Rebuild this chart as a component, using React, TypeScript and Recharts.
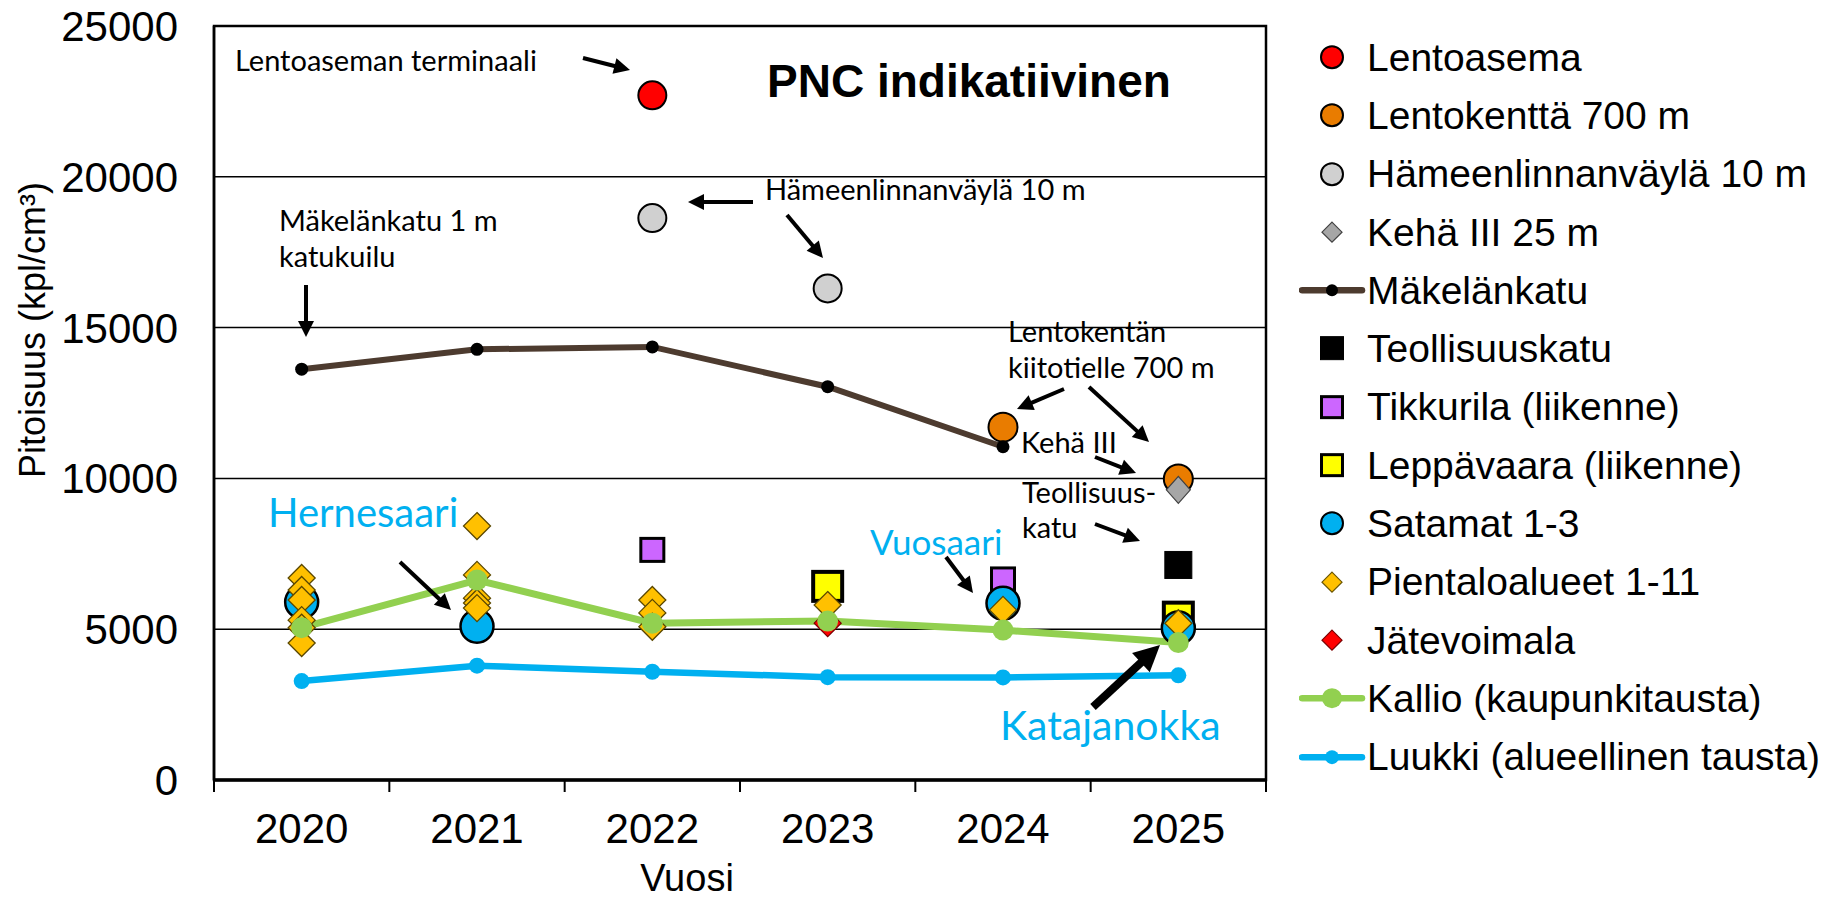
import React from 'react';
import { ComposedChart, Line, Scatter, XAxis, YAxis, CartesianGrid, Legend, ReferenceArea, ReferenceLine } from 'recharts';

const FONT = 'Liberation Sans, Arial, sans-serif';
const NOTE_FONT = 'Lato, sans-serif';

// categories and ticks
const years = [2020, 2021, 2022, 2023, 2024, 2025];
const yearEdges = [2019.5, 2020.5, 2021.5, 2022.5, 2023.5, 2024.5, 2025.5];
const yTicks = [0, 5000, 10000, 15000, 20000, 25000];

// series values, one entry per year (null = no measurement)
const makelankatu = [13620, 14280, 14360, 13040, 11050, null];
const kallio = [5050, 6630, 5200, 5270, 4970, 4560];
const luukki = [3280, 3790, 3590, 3410, 3400, 3470];
const lentoasema = [null, null, 22700, null, null, null];
const lentokentta = [null, null, null, null, 11700, 9980];
const hameenlinnanvayla = [null, null, 18630, 16300, null, null];
const keha3 = [null, null, null, null, null, 9620];
const teollisuuskatu = [null, null, null, null, null, 7130];
const tikkurila = [null, null, 7630, null, 6650, null];
const leppavaara = [null, null, null, 6420, null, 5400];
const satamat = [5900, 5100, null, null, 5860, 5040];
const jatevoimala = [null, null, null, 5200, null, null];
// several sites per year
const pientalo = [
  [6700, 6300, 5970, 5300, 5050, 4540],
  [8420, 6800, 6030, 5870, 5700],
  [5970, 5540, 5080],
  [5800],
  [5640],
  [5200],
];

const toPoints = (vals: (number | null)[]) =>
  years.flatMap((x, i) => (vals[i] == null ? [] : [{ x, y: vals[i] as number }]));
const pientaloPoints = years.flatMap((x, i) => pientalo[i].map((y) => ({ x, y })));
const xTicks = [...yearEdges, ...years].sort((a, b) => a - b);

const circleShape = (r: number, fill: string, stroke: string, sw: number) => (p: any) => (
  <circle cx={p.cx} cy={p.cy} r={r} fill={fill} stroke={stroke} strokeWidth={sw} />
);
const squareShape = (s: number, fill: string, stroke: string, sw: number) => (p: any) => (
  <rect x={p.cx - s / 2} y={p.cy - s / 2} width={s} height={s} fill={fill} stroke={stroke} strokeWidth={sw} />
);
const diamondShape = (hw: number, hh: number, fill: string, stroke: string, sw: number) => (p: any) => (
  <polygon
    points={`${p.cx},${p.cy - hh} ${p.cx + hw},${p.cy} ${p.cx},${p.cy + hh} ${p.cx - hw},${p.cy}`}
    fill={fill}
    stroke={stroke}
    strokeWidth={sw}
  />
);

// year labels in the middle of each band, tick marks on the band edges
function YearTick(props: any) {
  const { x, y, payload } = props;
  const v = payload.value;
  if (!Number.isInteger(v)) return <line x1={x} y1={y} x2={x} y2={y + 12} stroke="#000" strokeWidth={2} />;
  return (
    <text x={x} y={y + 33} dy="0.71em" textAnchor="middle" fontFamily={FONT} fontSize={42} fill="#000">
      {v}
    </text>
  );
}

type LegendItem = { name: string; kind: string; fill: string; stroke?: string; sw?: number; size?: number; dot?: number };
const legendItems: LegendItem[] = [
  { name: 'Lentoasema', kind: 'circle', fill: '#FF0000', stroke: '#000', sw: 2, size: 11 },
  { name: 'Lentokenttä 700 m', kind: 'circle', fill: '#E97C00', stroke: '#000', sw: 2, size: 11 },
  { name: 'Hämeenlinnanväylä 10 m', kind: 'circle', fill: '#D0D0D0', stroke: '#000', sw: 2, size: 11 },
  { name: 'Kehä III 25 m', kind: 'diamond', fill: '#A6A6A6', stroke: '#404040', sw: 1.2, size: 10 },
  { name: 'Mäkelänkatu', kind: 'line', fill: '#4D3B2F', dot: 6, stroke: '#000' },
  { name: 'Teollisuuskatu', kind: 'square', fill: '#000', stroke: '#000', sw: 1, size: 23 },
  { name: 'Tikkurila (liikenne)', kind: 'square', fill: '#CC66FF', stroke: '#000', sw: 3, size: 21 },
  { name: 'Leppävaara (liikenne)', kind: 'square', fill: '#FFFF00', stroke: '#000', sw: 3, size: 21 },
  { name: 'Satamat 1-3', kind: 'circle', fill: '#00B0F0', stroke: '#000', sw: 2, size: 11 },
  { name: 'Pientaloalueet 1-11', kind: 'diamond', fill: '#FFC000', stroke: '#6B5500', sw: 1.2, size: 10 },
  { name: 'Jätevoimala', kind: 'diamond', fill: '#FF0000', stroke: '#7A0000', sw: 1.2, size: 10 },
  { name: 'Kallio (kaupunkitausta)', kind: 'line', fill: '#92D050', dot: 10, stroke: '#92D050' },
  { name: 'Luukki (alueellinen tausta)', kind: 'line', fill: '#00B0F0', dot: 7, stroke: '#00B0F0' },
];

const ROW = 58.3;

function LegendIcon({ item }: { item: LegendItem }) {
  const c = 33;
  const m = ROW / 2;
  const s = item.size || 10;
  if (item.kind === 'circle') return <circle cx={c} cy={m} r={s} fill={item.fill} stroke={item.stroke} strokeWidth={item.sw} />;
  if (item.kind === 'square')
    return <rect x={c - s / 2} y={m - s / 2} width={s} height={s} fill={item.fill} stroke={item.stroke} strokeWidth={item.sw} />;
  if (item.kind === 'diamond')
    return (
      <polygon
        points={`${c},${m - s} ${c + s},${m} ${c},${m + s} ${c - s},${m}`}
        fill={item.fill}
        stroke={item.stroke}
        strokeWidth={item.sw}
      />
    );
  return (
    <g>
      <line x1={3} y1={m} x2={63} y2={m} stroke={item.fill} strokeWidth={6.5} strokeLinecap="round" />
      <circle cx={c} cy={m} r={item.dot} fill={item.stroke} />
    </g>
  );
}

function LegendBox() {
  return (
    <div style={{ fontFamily: FONT, fontSize: 39, color: '#000' }}>
      {legendItems.map((item) => (
        <div key={item.name} style={{ height: ROW, display: 'flex', alignItems: 'center' }}>
          <svg width={68} height={ROW} style={{ flex: 'none' }}>
            <LegendIcon item={item} />
          </svg>
          <span style={{ whiteSpace: 'nowrap', lineHeight: 1 }}>{item.name}</span>
        </div>
      ))}
    </div>
  );
}

function Arrow({ x1, y1, x2, y2, w = 4, head = 16 }: { x1: number; y1: number; x2: number; y2: number; w?: number; head?: number }) {
  const len = Math.hypot(x2 - x1, y2 - y1);
  const ux = (x2 - x1) / len;
  const uy = (y2 - y1) / len;
  const bx = x2 - ux * head;
  const by = y2 - uy * head;
  const hw = head * 0.5;
  return (
    <g>
      <line x1={x1} y1={y1} x2={bx + ux} y2={by + uy} stroke="#000" strokeWidth={w} />
      <polygon points={`${x2},${y2} ${bx - uy * hw},${by + ux * hw} ${bx + uy * hw},${by - ux * hw}`} fill="#000" />
    </g>
  );
}

function Note({ x, y, lines, step = 36 }: { x: number; y: number; lines: string[]; step?: number }) {
  return (
    <text x={x} y={y} fontFamily={NOTE_FONT} fontSize={29} fill="#000">
      {lines.map((l, i) => (
        <tspan key={i} x={x} dy={i === 0 ? 0 : step}>
          {l}
        </tspan>
      ))}
    </text>
  );
}

function Notes() {
  const b = { fontFamily: NOTE_FONT, fill: '#00B0F0' };
  return (
    <svg width={1830} height={898} style={{ position: 'absolute', left: 0, top: 0, pointerEvents: 'none' }}>
      <text x={767} y={97} fontFamily={FONT} fontWeight="bold" fontSize={46} fill="#000">PNC indikatiivinen</text>
      <text x={45} y={330} transform="rotate(-90 45 330)" textAnchor="middle" fontFamily={FONT} fontSize={36} fill="#000">
        Pitoisuus (kpl/cm³)
      </text>
      <text x={687} y={891} textAnchor="middle" fontFamily={FONT} fontSize={38} fill="#000">Vuosi</text>

      <Note x={235} y={71} lines={['Lentoaseman terminaali']} />
      <Arrow x1={583} y1={58} x2={630} y2={70} />
      <Note x={765} y={200} lines={['Hämeenlinnanväylä 10 m']} />
      <Arrow x1={753} y1={202} x2={688} y2={202} />
      <Arrow x1={787} y1={215} x2={823} y2={258} />
      <Note x={279} y={231} lines={['Mäkelänkatu 1 m', 'katukuilu']} />
      <Arrow x1={306} y1={285} x2={306} y2={337} />
      <Note x={1008} y={342} lines={['Lentokentän', 'kiitotielle 700 m']} />
      <Arrow x1={1064} y1={389} x2={1017} y2={409} />
      <Arrow x1={1089} y1={387} x2={1149} y2={442} />
      <Note x={1021} y={453} lines={['Kehä III']} />
      <Arrow x1={1095} y1={457} x2={1136} y2={473} />
      <Note x={1022} y={503} lines={['Teollisuus-', 'katu']} step={35} />
      <Arrow x1={1095} y1={524} x2={1140} y2={541} />
      <text x={268} y={527} fontSize={40} {...b}>Hernesaari</text>
      <Arrow x1={400} y1={562} x2={451} y2={610} />
      <text x={870} y={555} fontSize={35} {...b}>Vuosaari</text>
      <Arrow x1={946} y1={557} x2={973} y2={593} />
      <text x={1000} y={740} fontSize={41} {...b}>Katajanokka</text>
      <Arrow x1={1093} y1={707} x2={1160} y2={645} w={8} head={26} />
    </svg>
  );
}

export default function App() {
  return (
    <div style={{ position: 'absolute', left: 0, top: 0, width: 1830, height: 898, background: '#fff' }}>
      <ComposedChart width={1830} height={898} margin={{ top: 26, right: 564, bottom: 58, left: 0 }}>
        <CartesianGrid horizontal vertical={false} stroke="#000" strokeWidth={1.5} />
        <XAxis
          type="number"
          dataKey="x"
          domain={[2019.5, 2025.5]}
          ticks={xTicks}
          interval={0}
          tickSize={0}
          tickMargin={0}
          height={60}
          axisLine={{ stroke: '#000', strokeWidth: 3 }}
          tickLine={false}
          tick={<YearTick />}
        />
        <YAxis
          type="number"
          domain={[0, 25000]}
          ticks={yTicks}
          width={214}
          tickSize={0}
          tickMargin={36}
          tickLine={false}
          axisLine={{ stroke: '#000', strokeWidth: 2.5 }}
          tick={{ fontSize: 42, fill: '#000', fontFamily: FONT }}
        />
        <ReferenceArea x1={2019.5} x2={2025.5} y1={0} y2={25000} fill="none" stroke="#000" strokeWidth={2.5} ifOverflow="visible" />
        <ReferenceLine y={0} stroke="#000" strokeWidth={3} />
        <Line data={toPoints(luukki)} dataKey="y" stroke="#00B0F0" strokeWidth={6.5} dot={{ r: 8, fill: '#00B0F0', stroke: 'none' }} isAnimationActive={false} />
        <Line data={toPoints(kallio)} dataKey="y" stroke="#92D050" strokeWidth={7} dot={{ r: 10.5, fill: '#92D050', stroke: 'none' }} isAnimationActive={false} />
        <Line data={toPoints(makelankatu)} dataKey="y" stroke="#4D3B2F" strokeWidth={6} dot={{ r: 6.5, fill: '#000', stroke: 'none' }} isAnimationActive={false} />
        <Scatter data={toPoints(lentoasema)} dataKey="y" shape={circleShape(14, '#FF0000', '#000', 2)} isAnimationActive={false} />
        <Scatter data={toPoints(lentokentta)} dataKey="y" shape={circleShape(14.5, '#E97C00', '#000', 2)} isAnimationActive={false} />
        <Scatter data={toPoints(hameenlinnanvayla)} dataKey="y" shape={circleShape(14, '#D0D0D0', '#000', 2)} isAnimationActive={false} />
        <Scatter data={toPoints(keha3)} dataKey="y" shape={diamondShape(12, 13.5, '#A6A6A6', '#404040', 1.2)} isAnimationActive={false} />
        <Scatter data={toPoints(teollisuuskatu)} dataKey="y" shape={squareShape(27, '#000', '#000', 1)} isAnimationActive={false} />
        <Scatter data={toPoints(tikkurila)} dataKey="y" shape={squareShape(23, '#CC66FF', '#000', 3)} isAnimationActive={false} />
        <Scatter data={toPoints(leppavaara)} dataKey="y" shape={squareShape(29, '#FFFF00', '#000', 4)} isAnimationActive={false} />
        <Scatter data={toPoints(satamat)} dataKey="y" shape={circleShape(16.5, '#00B0F0', '#000', 2.5)} isAnimationActive={false} />
        <Scatter data={toPoints(jatevoimala)} dataKey="y" shape={diamondShape(13.5, 13.5, '#FF0000', '#7A0000', 1.2)} isAnimationActive={false} />
        <Scatter data={pientaloPoints} dataKey="y" shape={diamondShape(13.5, 13.5, '#FFC000', '#5A4700', 1.3)} isAnimationActive={false} />
        <Legend
          layout="vertical"
          align="center"
          verticalAlign="middle"
          content={() => <LegendBox />}
          wrapperStyle={{ left: 1299, top: 28, width: 531 }}
        />
      </ComposedChart>
      <Notes />
    </div>
  );
}
